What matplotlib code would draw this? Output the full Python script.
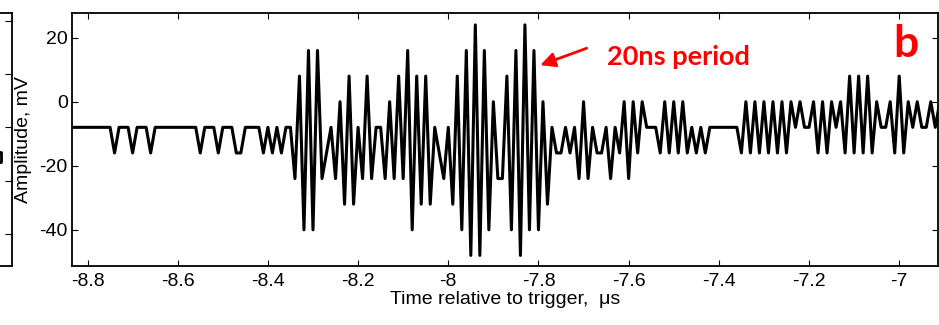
import numpy as np
import matplotlib
matplotlib.use('Agg')
import matplotlib.pyplot as plt

# sampled waveform, 10 ns per sample, starting at -8.84 us
t_start = -8.84
t_step = 0.01
amp = [
    -8, -8, -8, -8, -8, -8, -8, -8, -8, -8,
    -16, -8, -8, -8, -16, -8, -8, -8, -16, -8,
    -8, -8, -8, -8, -8, -8, -8, -8, -8, -16,
    -8, -8, -8, -16, -8, -8, -8, -16, -16, -8,
    -8, -8, -8, -16, -8, -16, -8, -16, -8, -8,
    -24, 8, -40, 16, -40, 16, -24, -16, -8, -24,
    0, -32, 8, -32, -8, -24, 8, -24, -8, -8,
    -24, 0, -24, 8, -24, 16, -40, 8, -32, 8,
    -32, -8, -16, -24, -8, -32, 8, -40, 16, -48,
    24, -48, 16, -40, 0, -24, -24, 8, -40, 16,
    -48, 24, -40, 16, -40, 0, -32, -8, -16, -16,
    -8, -16, -8, -24, 0, -24, -8, -16, -16, -8,
    -24, -8, -16, 0, -24, 0, -16, 0, -8, -8,
    -8, -16, 0, -16, 0, -16, 0, -16, -8, -16,
    -8, -16, -8, -8, -8, -8, -8, -8, -8, -16,
    0, -16, 0, -16, 0, -16, 0, -16, 0, -16,
    0, -8, 0, -8, -8, 0, -16, 0, -16, 0,
    -8, 0, -16, 8, -16, 8, -16, 8, -16, 0,
    -8, -8, 0, -16, 8, -16, 0, -8, 0, -8,
    -8, 0, -8, 0,
]
t = t_start + t_step * np.arange(len(amp))

xticks = [-8.8, -8.6, -8.4, -8.2, -8.0, -7.8, -7.6, -7.4, -7.2, -7.0]
yticks = [-40, -20, 0, 20]

# bit of the neighbouring panel visible at the left edge
stub_x = [0.94, 0.962, 0.962, 0.94]
stub_y = [0.45, 0.45, 0.41, 0.41]
stub_ticks = [0.126, 0.336, 0.549, 0.759, 0.968]

plt.rcParams['font.family'] = ['Liberation Sans', 'DejaVu Sans']
plt.rcParams['axes.unicode_minus'] = False

fig = plt.figure(figsize=(9.39, 3.25), dpi=100)

stub = fig.add_axes([-0.3, 1 - 266 / 325, 0.3128, 253 / 325])
stub.plot(stub_x, stub_y, color='black', lw=2)
stub.set_xlim(0, 1)
stub.set_ylim(0, 1)
stub.set_xticks([])
stub.set_yticks(stub_ticks)
stub.tick_params(axis='y', direction='in', left=False, right=True,
                 labelleft=False, length=5, width=0.8)
for s in stub.spines.values():
    s.set_linewidth(1.3)

ax = fig.add_axes([72 / 939, 1 - 266 / 325, 866 / 939, 253 / 325])
ax.plot(t, amp, color='black', lw=2.2)
ax.set_xlim(-8.8344, -6.914)
ax.set_ylim(-51.3, 27.7)
ax.set_xticks(xticks)
ax.set_xticklabels(['%g' % v for v in xticks])
ax.set_yticks(yticks)
ax.set_yticklabels(['%g' % v for v in yticks])
ax.tick_params(direction='in', top=True, right=True, length=4, width=0.8,
               labelsize=14)
ax.tick_params(axis='x', pad=5)
ax.tick_params(axis='y', pad=3)
for s in ax.spines.values():
    s.set_linewidth(1.3)

ax.set_xlabel('Time relative to trigger,  \u03bcs', fontsize=14)
ax.xaxis.set_label_coords(0.5, -0.1)
ax.set_ylabel('Amplitude, mV', fontsize=14)
ax.yaxis.set_label_coords(-0.046, 0.5)

ax.annotate('', xy=(-7.796, 11.4), xytext=(-7.693, 16.7),
            arrowprops=dict(arrowstyle='-|>', color='red', lw=2,
                            mutation_scale=22, shrinkA=0, shrinkB=0))
ax.text(-7.648, 13.9, '20ns period', color='red', fontsize=19.5,
        fontweight='bold', family='Lato', ha='left', va='center')
ax.text(-6.985, 18.0, 'b', color='red', fontsize=32,
        fontweight='bold', family='Lato', ha='center', va='center')

fig.savefig('out.png', dpi=100)
